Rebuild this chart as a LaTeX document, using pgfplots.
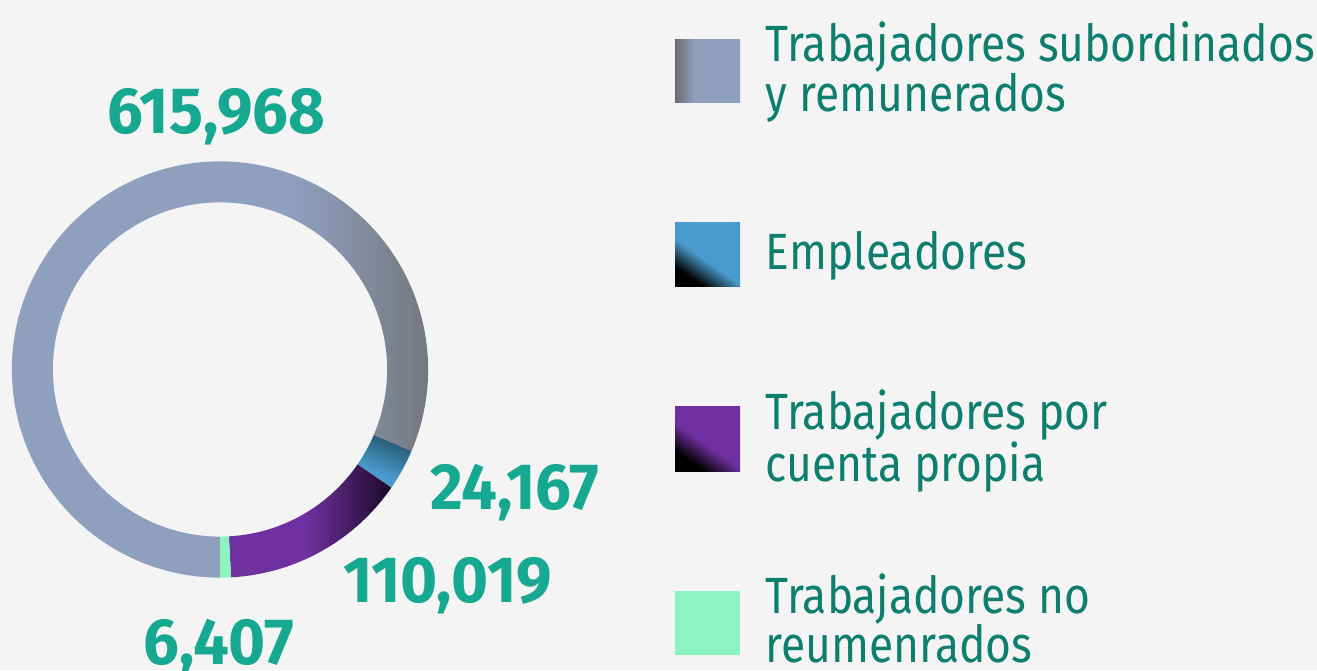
\documentclass[border=0pt]{standalone}
\usepackage{fontspec}
\setmainfont[FakeStretch=0.87, BoldFeatures={FakeStretch=0.97}]{Fira Sans}
\usepackage{pgfplots}
\usepackage{pgfplotstable}
\pgfplotsset{compat=1.18}
\usetikzlibrary{backgrounds}

\definecolor{bgcol}{HTML}{F4F4F4}
\definecolor{grayL}{HTML}{8FA0BF}
\definecolor{grayD}{HTML}{737579}
\definecolor{graySq}{HTML}{6A6C70}
\definecolor{blueC}{HTML}{4A9BCD}
\definecolor{blueD}{HTML}{1D4A5E}
\definecolor{purpC}{HTML}{7030A0}
\definecolor{purpD}{HTML}{1A0A26}
\definecolor{greenC}{HTML}{8DF3C1}
\definecolor{numcol}{HTML}{17A892}
\definecolor{txtcol}{HTML}{0E7E6E}

\pgfdeclarehorizontalshading{grayshade}{100bp}{color(0bp)=(grayL); color(58bp)=(grayL); color(75bp)=(grayD); color(100bp)=(grayD)}
\pgfdeclarehorizontalshading{purpshade}{100bp}{color(0bp)=(purpC); color(50bp)=(purpC); color(75bp)=(purpD); color(100bp)=(purpD)}
\pgfdeclareverticalshading{blueshade}{100bp}{color(0bp)=(blueC); color(44bp)=(blueC); color(60bp)=(blueD); color(100bp)=(blueD)}
\pgfdeclarehorizontalshading{graysq}{100bp}{color(0bp)=(graySq); color(25bp)=(graySq); color(40bp)=(grayL); color(100bp)=(grayL)}
\pgfdeclareverticalshading{bluesq}{100bp}{color(0bp)=(black); color(28bp)=(black); color(46bp)=(blueC); color(100bp)=(blueC)}
\pgfdeclareverticalshading{purpsq}{100bp}{color(0bp)=(black); color(28bp)=(black); color(46bp)=(purpC); color(100bp)=(purpC)}

% value, label text and label position (baseline) in picture pixels
\pgfplotstableread{
name value label lx ly
sub 615968 615,968 216.5 536
emp 24167 24,167 515 161
cue 110019 110,019 447.5 68
nor 6407 6,407 219 6
}\slices

\newcommand\numfont{\fontsize{18.6}{20}\selectfont\bfseries}
\newcommand\legfont{\fontsize{14.5}{14.2}\selectfont}

% annular sector around the ring centre, #2 -> #3 degrees
\newcommand\slice[3]{%
  \path[#1] (axis cs:220,300.5) ++(#2:2.08cm)
    arc[start angle=#2, end angle=#3, radius=2.08cm]
    -- ++(#3:-0.41cm)
    arc[start angle=#3, end angle=#2, radius=1.67cm] -- cycle;}

\begin{document}
\begin{tikzpicture}
\pgfplotstablegetelem{0}{value}\of\slices \edef\vA{\pgfplotsretval}
\pgfplotstablegetelem{1}{value}\of\slices \edef\vB{\pgfplotsretval}
\pgfplotstablegetelem{2}{value}\of\slices \edef\vC{\pgfplotsretval}
\pgfplotstablegetelem{3}{value}\of\slices \edef\vD{\pgfplotsretval}
\edef\tot{\fpeval{\vA+\vB+\vC+\vD}}
\edef\eA{\fpeval{round(-90-360*\vA/\tot,3)}}
\edef\eB{\fpeval{round(\eA-360*\vB/\tot,3)}}
\edef\eC{\fpeval{round(\eB-360*\vC/\tot,3)}}
\edef\eD{\fpeval{round(\eC-360*\vD/\tot,3)}}
\begin{axis}[name=ax, x=0.01cm, y=0.01cm, xmin=0, xmax=1317, ymin=0, ymax=670,
  scale only axis, hide axis, clip=false]
\slice{shade, shading=grayshade}{-90}{\eA}
\slice{shade, shading=blueshade, shading angle=-23}{\eA}{\eB}
\slice{shade, shading=purpshade}{\eB}{\eC}
\slice{fill=greenC}{\eC}{\eD}

\addplot[draw=none, mark=none, nodes near coords, point meta=explicit symbolic,
  nodes near coords align={anchor=base},
  every node near coord/.append style={font=\numfont, text=numcol, inner sep=0pt}]
  table[x=lx, y=ly, meta=label] {\slices};

% legend
\shade[shading=graysq] (axis cs:675,567) rectangle (axis cs:740,630);
\shade[shading=bluesq, shading angle=-35] (axis cs:675,383) rectangle (axis cs:740,447);
\shade[shading=purpsq, shading angle=-35] (axis cs:675,199) rectangle (axis cs:740,263);
\fill[greenC] (axis cs:675,15) rectangle (axis cs:740,79);
\begin{scope}[every node/.style={anchor=base west, inner sep=0pt, text=txtcol, font=\legfont}]
\node at (axis cs:765,608) {Trabajadores subordinados};
\node at (axis cs:765,558) {y remunerados};
\node at (axis cs:765,400) {Empleadores};
\node at (axis cs:765,240) {Trabajadores por};
\node at (axis cs:765,189) {cuenta propia};
\node at (axis cs:765,57) {Trabajadores no};
\node at (axis cs:765,8) {reumenrados};
\end{scope}
\end{axis}
\begin{scope}[on background layer]
\fill[bgcol] (ax.south west) rectangle (ax.north east);
\end{scope}
\pgfresetboundingbox
\path[use as bounding box] (ax.south west) rectangle (ax.north east);
\end{tikzpicture}
\end{document}
